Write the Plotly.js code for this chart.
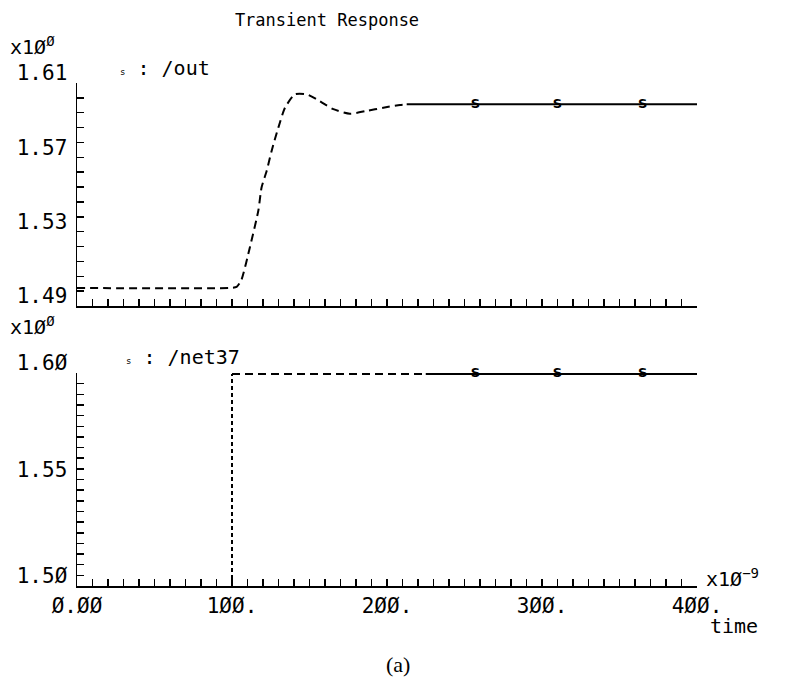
<!DOCTYPE html>
<html>
<head>
<meta charset="utf-8">
<script src="https://cdn.plot.ly/plotly-3.0.1.min.js"></script>
<style>html,body{margin:0;padding:0;background:#fff;}#chart{width:793px;height:692px;}</style>
</head>
<body>
<div id="chart"></div>
<script>
// ---- data (time in ns) ----
const outTime  = [0, 98, 103, 106, 111.6, 117, 119.1, 122.4, 125.6, 129.9, 134.2, 140.6, 148.2, 154.6, 165.4, 176.1, 186.9, 197.6, 208.4, 212.7, 400];
const outValue = [1.4997, 1.4997, 1.5003, 1.5039, 1.5218, 1.5414, 1.5539, 1.5628, 1.5736, 1.586, 1.5967, 1.6039, 1.6039, 1.6012, 1.5959, 1.5935, 1.595, 1.5967, 1.5982, 1.5985, 1.5985];
const netTime  = [0, 100, 100, 225, 400];
const netValue = [1.50, 1.50, 1.5995, 1.5995, 1.5995];
const markerTimes = [257, 310, 365];
const xTickVals = [0, 100, 200, 300, 400];
const xTickText = ['Ø.ØØ', '1ØØ.', '2ØØ.', '3ØØ.', '4ØØ.'];
const yTopTickVals = [1.49, 1.53, 1.57, 1.61];
const yTopTickText = ['1.49', '1.53', '1.57', '1.61'];
const yBotTickVals = [1.50, 1.55, 1.60];
const yBotTickText = ['1.5Ø', '1.55', '1.6Ø'];
const outSolidFrom = 212.7;   // where the plotted trace turns solid
const netSolidFrom = 225;

// ---- split helpers ----
function seg(t, v, cond){ const x=[],y=[]; t.forEach((tt,i)=>{ if(cond(tt,i)){x.push(tt);y.push(v[i]);} }); return {x,y}; }
const outDash = seg(outTime, outValue, tt => tt <= outSolidFrom);
const outSolid = seg(outTime, outValue, tt => tt >= outSolidFrom);
const netVert = seg(netTime, netValue, (tt,i) => i>=1 && i<=2);
const netDash = seg(netTime, netValue, (tt,i) => i>=2 && tt <= netSolidFrom);
const netSolid = seg(netTime, netValue, tt => tt >= netSolidFrom);
const outFinal = outValue[outValue.length-1];
const netFinal = netValue[netValue.length-1];

const FONT = 'DejaVu Sans Mono, monospace';
const blk = '#000';

const traces = [
  {x: outDash.x, y: outDash.y, xaxis:'x2', yaxis:'y2', mode:'lines', line:{color:blk, width:2, dash:'8px,5px', shape:'spline', smoothing:0.6}, hoverinfo:'skip'},
  {x: outSolid.x, y: outSolid.y, xaxis:'x2', yaxis:'y2', mode:'lines', line:{color:blk, width:2}, hoverinfo:'skip'},
  {x: markerTimes, y: markerTimes.map(()=>outFinal), xaxis:'x2', yaxis:'y2', mode:'text', text: markerTimes.map(()=> 'S'), textfont:{family:'DejaVu Sans, sans-serif', size:13, weight:'bold', color:blk}, textposition:'middle center', cliponaxis:false, hoverinfo:'skip'},
  {x: netVert.x, y: netVert.y, xaxis:'x', yaxis:'y', mode:'lines', line:{color:blk, width:2, dash:'4px,3px'}, hoverinfo:'skip'},
  {x: netDash.x, y: netDash.y, xaxis:'x', yaxis:'y', mode:'lines', line:{color:blk, width:2, dash:'8px,5px'}, hoverinfo:'skip'},
  {x: netSolid.x, y: netSolid.y, xaxis:'x', yaxis:'y', mode:'lines', line:{color:blk, width:2}, hoverinfo:'skip'},
  {x: markerTimes, y: markerTimes.map(()=>netFinal), xaxis:'x', yaxis:'y', mode:'text', text: markerTimes.map(()=> 'S'), textfont:{family:'DejaVu Sans, sans-serif', size:13, weight:'bold', color:blk}, textposition:'middle center', cliponaxis:false, hoverinfo:'skip'}
];

const L=77, R=96, T=83, B=106, W=793, H=692;
const pw = W-L-R, ph = H-T-B;
const px = x => (x-L)/pw;
const py = y => (H-B-y)/ph;

const axBase = {
  showgrid:false, zeroline:false, showline:true, linecolor:blk, linewidth:2,
  ticks:'inside', ticklen:7, tickwidth:1.5, tickcolor:blk,
  tickfont:{family:FONT, size:21, color:blk}
};

const layout = {
  width:W, height:H,
  margin:{l:L, r:R, t:T, b:B},
  paper_bgcolor:'#fff', plot_bgcolor:'#fff',
  showlegend:false,
  title:{text:'Transient Response', font:{family:FONT, size:17, color:blk}, xref:'container', yref:'container', x:327/W, y:1-20/H, xanchor:'center', yanchor:'middle'},
  xaxis: Object.assign({}, axBase, {anchor:'y', domain:[0,1], range:[0,400], tickmode:'array', tickvals:xTickVals, ticktext:xTickText,
    minor:{tickmode:'linear', tick0:0, dtick:10, ticks:'inside', ticklen:7, tickwidth:1.5, tickcolor:blk}}),
  xaxis2: Object.assign({}, axBase, {anchor:'y2', domain:[0,1], range:[0,400], matches:'x', tickmode:'array', tickvals:xTickVals, showticklabels:false,
    minor:{tickmode:'linear', tick0:0, dtick:10, ticks:'inside', ticklen:7, tickwidth:1.5, tickcolor:blk}}),
  yaxis: Object.assign({}, axBase, {anchor:'x', domain:[0, py(373)], range:[1.50, 1.60], tickmode:'array', tickvals:yBotTickVals, ticktext:yBotTickText,
    ticklabelstandoff:4, ticklabelshift:-10, linewidth:1.5,
    minor:{tickmode:'linear', tick0:1.50, dtick:0.005, ticks:'inside', ticklen:7, tickwidth:1.5, tickcolor:blk}}),
  yaxis2: Object.assign({}, axBase, {anchor:'x2', domain:[py(306), 1], range:[1.49, 1.61], tickmode:'array', tickvals:yTopTickVals, ticktext:yTopTickText,
    ticklabelstandoff:4, ticklabelshift:-10, linewidth:1.5,
    minor:{tickmode:'linear', tick0:1.49, dtick:0.008, ticks:'inside', ticklen:7, tickwidth:1.5, tickcolor:blk}}),
  annotations:[
    {text:'x1Ø<sup>Ø</sup>', xref:'paper', yref:'paper', x:px(8), y:py(46), xanchor:'left', yanchor:'middle', showarrow:false, font:{family:FONT, size:20, color:blk}},
    {text:'<span style="font-size:9px">s</span> : /out', xref:'paper', yref:'paper', x:px(118), y:py(68), xanchor:'left', yanchor:'middle', showarrow:false, font:{family:FONT, size:20, color:blk}},
    {text:'x1Ø<sup>Ø</sup>', xref:'paper', yref:'paper', x:px(8), y:py(326), xanchor:'left', yanchor:'middle', showarrow:false, font:{family:FONT, size:20, color:blk}},
    {text:'<span style="font-size:9px">s</span> : /net37', xref:'paper', yref:'paper', x:px(124), y:py(357), xanchor:'left', yanchor:'middle', showarrow:false, font:{family:FONT, size:20, color:blk}},
    {text:'x1Ø<sup>−9</sup>', xref:'paper', yref:'paper', x:px(704), y:py(578), xanchor:'left', yanchor:'middle', showarrow:false, font:{family:FONT, size:20, color:blk}},
    {text:'time', xref:'paper', yref:'paper', x:px(734), y:py(626), xanchor:'center', yanchor:'middle', showarrow:false, font:{family:FONT, size:20, color:blk}},
    {text:'(a)', xref:'paper', yref:'paper', x:px(398), y:py(664), xanchor:'center', yanchor:'middle', showarrow:false, font:{family:'Liberation Serif, Times New Roman, serif', size:22, color:blk}}
  ]
};

Plotly.newPlot('chart', traces, layout, {staticPlot:true, displayModeBar:false});
</script>
</body>
</html>
